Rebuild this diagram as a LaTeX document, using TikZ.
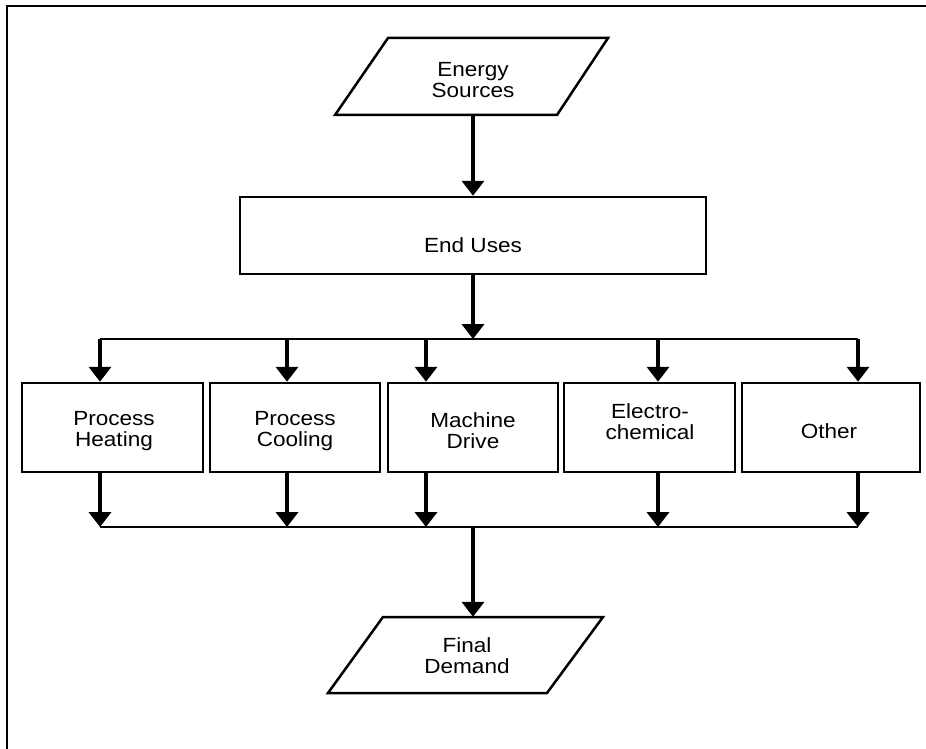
\documentclass[tikz,border=0pt]{standalone}
\usepackage{fontspec}
\setmainfont{Liberation Sans}[FakeStretch=1.1]
\usetikzlibrary{arrows.meta}
\newcommand{\dlabelfont}{\fontsize{20.5}{21}\selectfont}
\begin{document}
\begin{tikzpicture}[x=1pt,y=-1pt,
  edge/.style={line width=2.5pt},
  box/.style={draw, line width=2.5pt, inner sep=0pt, minimum height=89pt},
  txt/.style={inner sep=0pt, align=center, font=\dlabelfont},
  arr/.style={line width=4pt, -{Triangle[width=22pt,length=15pt]}}]
\useasboundingbox (0,0) rectangle (926,749);
% frame
\draw[edge] (7,749) -- (7,6) -- (926,6);
% Energy Sources
\draw[edge, line join=miter] (388,38) -- (608,38) -- (557,115) -- (335,115) -- cycle;
\node[txt, minimum height=71pt] (es) at (473,80) {Energy\\Sources};
% End Uses
\node[box, minimum width=466pt, minimum height=77pt] (eu) at (473,235.5) {};
\node[txt] (eut) at (473,245) {End Uses};
\draw[arr] (es.south) -- (es.south |- eu.north);
% distribution line
\coordinate (top) at (473,339);
\coordinate (t1) at (100,339);
\coordinate (t2) at (287,339);
\coordinate (t3) at (426,339);
\coordinate (t4) at (658,339);
\coordinate (t5) at (858,339);
\draw[arr] (eu.south) -- (top);
\draw[edge] (t1) -- (t5);
% end use boxes
\node[box, minimum width=181pt] (b1) at (112.5,427.5) {};
\node[box, minimum width=170pt] (b2) at (295,427.5) {};
\node[box, minimum width=170pt] (b3) at (473,427.5) {};
\node[box, minimum width=171pt] (b4) at (649.5,427.5) {};
\node[box, minimum width=178pt] (b5) at (831,427.5) {};
\node[txt] (b1t) at (114,431) {Process\\Heating};
\node[txt] (b2t) at (295,431) {Process\\Cooling};
\node[txt] (b3t) at (473,431) {Machine\\Drive};
\node[txt] (b4t) at (650,422) {Electro-\\chemical};
\node[txt] (b5t) at (829,431) {Other};
\foreach \i in {1,...,5} {
  \draw[arr] (t\i) -- (t\i |- b\i.north);
}
% collection line
\coordinate (bot) at (473,527);
\coordinate (c1) at (100,527);
\coordinate (c2) at (287,527);
\coordinate (c3) at (426,527);
\coordinate (c4) at (658,527);
\coordinate (c5) at (858,527);
\draw[edge] (c1) -- (c5);
\foreach \i in {1,...,5} {
  \draw[arr] (c\i |- b\i.south) -- (c\i);
}
% Final Demand
\draw[edge, line join=miter] (383,617) -- (603,617) -- (547,693) -- (328,693) -- cycle;
\node[txt, minimum height=78pt] (fd) at (467,656) {Final\\Demand};
\draw[arr] (bot) -- (bot |- fd.north);
\end{tikzpicture}
\end{document}
